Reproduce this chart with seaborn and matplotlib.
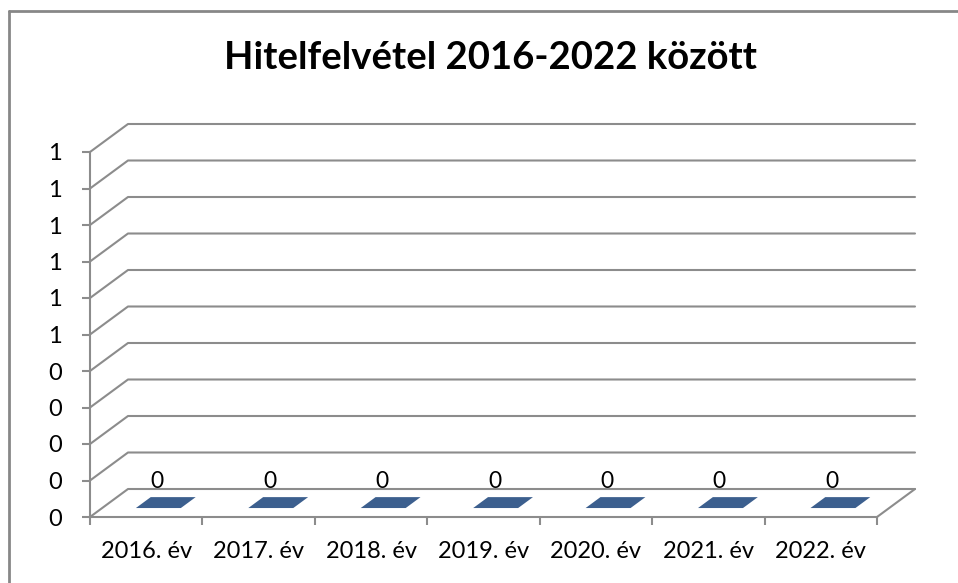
import matplotlib
matplotlib.use("Agg")
import matplotlib.pyplot as plt
import seaborn as sns
import pandas as pd
from matplotlib.patches import Polygon
from matplotlib.lines import Line2D
from matplotlib.ticker import FixedLocator

# -------------------------------------------------------------------------
# Data
# -------------------------------------------------------------------------
years = ["2016. év", "2017. év", "2018. év", "2019. év",
         "2020. év", "2021. év", "2022. év"]
loans = [0, 0, 0, 0, 0, 0, 0]
y_ticks = [0.0, 0.1, 0.2, 0.3, 0.4, 0.5, 0.6, 0.7, 0.8, 0.9, 1.0]
y_tick_labels = ["0", "0", "0", "0", "0", "1", "1", "1", "1", "1", "1"]
title = "Hitelfelvétel 2016-2022 között"

# -------------------------------------------------------------------------
# Style
# -------------------------------------------------------------------------
W, H, DPI = 958, 583, 100
AX_LEFT, AX_RIGHT, AX_TOP, AX_BOTTOM = 90, 877, 152, 517   # pixels
DEPTH_X, DEPTH_Y = 38, 28                                  # 3D offset, pixels
GRID = "#8c8c8c"
BAR = "#3c5f8e"
FONT = ["Lato", "DejaVu Sans"]

sns.set_theme(style="white")
plt.rcParams["font.family"] = FONT
plt.rcParams["text.color"] = "black"
plt.rcParams["xtick.labelcolor"] = "black"
plt.rcParams["ytick.labelcolor"] = "black"

df = pd.DataFrame({"year": years, "value": loans})

fig = plt.figure(figsize=(W / DPI, H / DPI), dpi=DPI)
ax = fig.add_axes([AX_LEFT / W, (H - AX_BOTTOM) / H,
                   (AX_RIGHT - AX_LEFT) / W, (AX_BOTTOM - AX_TOP) / H])

sns.barplot(data=df, x="year", y="value", color=BAR, width=0.4,
            saturation=1, ax=ax)

n = len(years)
ax.set_xlim(-0.5, n - 0.5)
ax.set_ylim(y_ticks[0], y_ticks[-1])
ax.set_xlabel("")
ax.set_ylabel("")

# depth offset expressed in data units
kx = DEPTH_X / (AX_RIGHT - AX_LEFT) * n
ky = DEPTH_Y / (AX_BOTTOM - AX_TOP) * (y_ticks[-1] - y_ticks[0])


def depth(x, y, d):
    return x + kx * d, y + ky * d


# side wall + back wall gridlines
x0, x1 = -0.5, n - 0.5
for yv in y_ticks:
    pts = [depth(x0, yv, 0), depth(x0, yv, 1), depth(x1, yv, 1)]
    ax.add_line(Line2D([p[0] for p in pts], [p[1] for p in pts],
                       color=GRID, lw=1.5, clip_on=False, zorder=1))
# right edge of the floor
pts = [depth(x1, 0, 0), depth(x1, 0, 1)]
ax.add_line(Line2D([p[0] for p in pts], [p[1] for p in pts],
                   color=GRID, lw=1.5, clip_on=False, zorder=1))

# flat bar tops (parallelograms on the floor) + data labels
d0, d1 = 0.32, 0.71
for patch, val in zip(ax.patches, loans):
    xl = patch.get_x()
    xr = xl + patch.get_width()
    top = patch.get_y() + patch.get_height()
    poly = [depth(xl, top, d0), depth(xr, top, d0),
            depth(xr, top, d1), depth(xl, top, d1)]
    ax.add_patch(Polygon(poly, closed=True, facecolor=BAR,
                         edgecolor="none", clip_on=False, zorder=3))
    ax.annotate(f"{val:g}", (xl + patch.get_width() / 2, top),
                xytext=(11, 35), textcoords="offset pixels",
                ha="center", va="center", fontsize=16.5, color="black")

# axes
for side in ["top", "right"]:
    ax.spines[side].set_visible(False)
for side in ["left", "bottom"]:
    ax.spines[side].set_color(GRID)
    ax.spines[side].set_linewidth(1.5)

ax.set_yticks(y_ticks)
ax.set_yticklabels(y_tick_labels)
ax.tick_params(axis="y", left=True, length=6, width=1.5, color=GRID,
               pad=14, labelsize=17)
ax.set_xticks(range(n))
ax.set_xticklabels(years)
ax.tick_params(axis="x", which="major", length=0, pad=17, labelsize=17)
ax.xaxis.set_minor_locator(FixedLocator([i - 0.5 for i in range(n + 1)]))
ax.tick_params(axis="x", which="minor", bottom=True, length=6, width=1.5,
               color=GRID)

fig.text(490 / W, 1 - 58 / H, title, ha="center", va="center",
         fontsize=27.5, fontweight="bold", color="black")

# chart area border (right/bottom sides fall outside the image)
fig.add_artist(Line2D([9 / W, 9 / W], [0, 1 - 11 / H], color="#878787",
                      lw=2, transform=fig.transFigure))
fig.add_artist(Line2D([9 / W, 1], [1 - 11 / H, 1 - 11 / H], color="#878787",
                      lw=2, transform=fig.transFigure))

fig.savefig("out.png", dpi=DPI)
